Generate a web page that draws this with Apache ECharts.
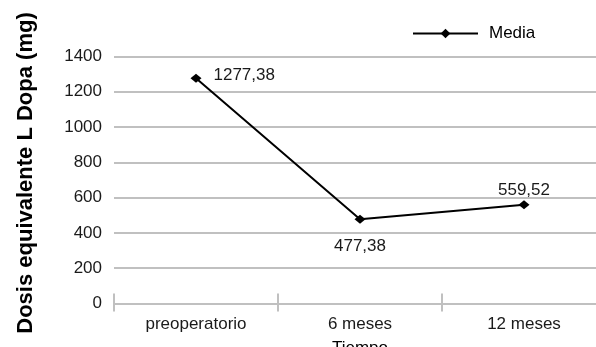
<!DOCTYPE html>
<html>
<head>
<meta charset="utf-8">
<script src="https://cdn.jsdelivr.net/npm/echarts@6/dist/echarts.min.js"></script>
<style>
html,body{margin:0;padding:0;background:#fff;}
#c{width:596px;height:347px;}
</style>
</head>
<body>
<div id="c"></div>
<script>
const categories = ['preoperatorio', '6 meses', '12 meses'];
const media = [1277.38, 477.38, 559.52];
const labelTexts = ['1277,38', '477,38', '559,52'];
const seriesName = 'Media';
const yTitle = 'Dosis equivalente L Dopa (mg)';
const xTitle = 'Tiempo';

const FONT = 'Liberation Sans, Arial, sans-serif';
const FS = 17;
const labelCfg = [
  {position: 'right', distance: 12, offset: [0, -3]},
  {position: 'bottom', distance: 14},
  {position: 'top', distance: 1}
];

const chart = echarts.init(document.getElementById('c'));
chart.setOption({
  animation: false,
  backgroundColor: '#fff',
  textStyle: {fontFamily: FONT},
  grid: {left: 114, right: -10, top: 56.5, bottom: 43.5, containLabel: false, outerBoundsMode: 'none'},
  legend: {
    data: [seriesName],
    left: 407, top: 20,
    itemWidth: 65, itemHeight: 12, itemGap: 10,
    textStyle: {fontSize: FS, color: '#000', fontFamily: FONT, padding: [0, 0, 0, 6]}
  },
  xAxis: [{
    type: 'category',
    data: categories,
    boundaryGap: true,
    name: xTitle,
    nameLocation: 'middle',
    nameGap: 36,
    nameTextStyle: {fontSize: FS, color: '#000', fontFamily: FONT},
    axisLine: {show: true, lineStyle: {color: '#c0c0c0', width: 2}},
    axisTick: {show: true, length: 8, lineStyle: {color: '#c0c0c0', width: 2}},
    axisLabel: {fontSize: FS, color: '#1a1a1a', margin: 12, fontFamily: FONT}
  }, {
    type: 'category',
    data: categories,
    position: 'bottom',
    boundaryGap: true,
    axisLine: {show: false},
    axisTick: {show: true, inside: true, length: 10, lineStyle: {color: '#c0c0c0', width: 2}},
    axisLabel: {show: false}
  }],
  yAxis: {
    type: 'value',
    min: 0, max: 1400, interval: 200,
    name: yTitle,
    nameLocation: 'middle',
    nameGap: 77,
    nameRotate: 90,
    nameTextStyle: {fontSize: 22, fontWeight: 'bold', color: '#000', fontFamily: FONT, padding: [0, 0, 0, 14]},
    axisLine: {show: false},
    axisTick: {show: false},
    axisLabel: {fontSize: FS, color: '#1a1a1a', margin: 12, fontFamily: FONT, formatter: v => String(v)},
    splitLine: {show: true, lineStyle: {color: '#c0c0c0', width: 2}}
  },
  series: [{
    name: seriesName,
    type: 'line',
    data: media.map((v, i) => ({
      value: v,
      label: Object.assign({show: true, formatter: labelTexts[i], fontSize: FS, color: '#1a1a1a', fontFamily: FONT}, labelCfg[i])
    })),
    symbol: 'diamond',
    symbolSize: [11, 9],
    itemStyle: {color: '#000'},
    lineStyle: {color: '#000', width: 2}
  }]
});
</script>
</body>
</html>
